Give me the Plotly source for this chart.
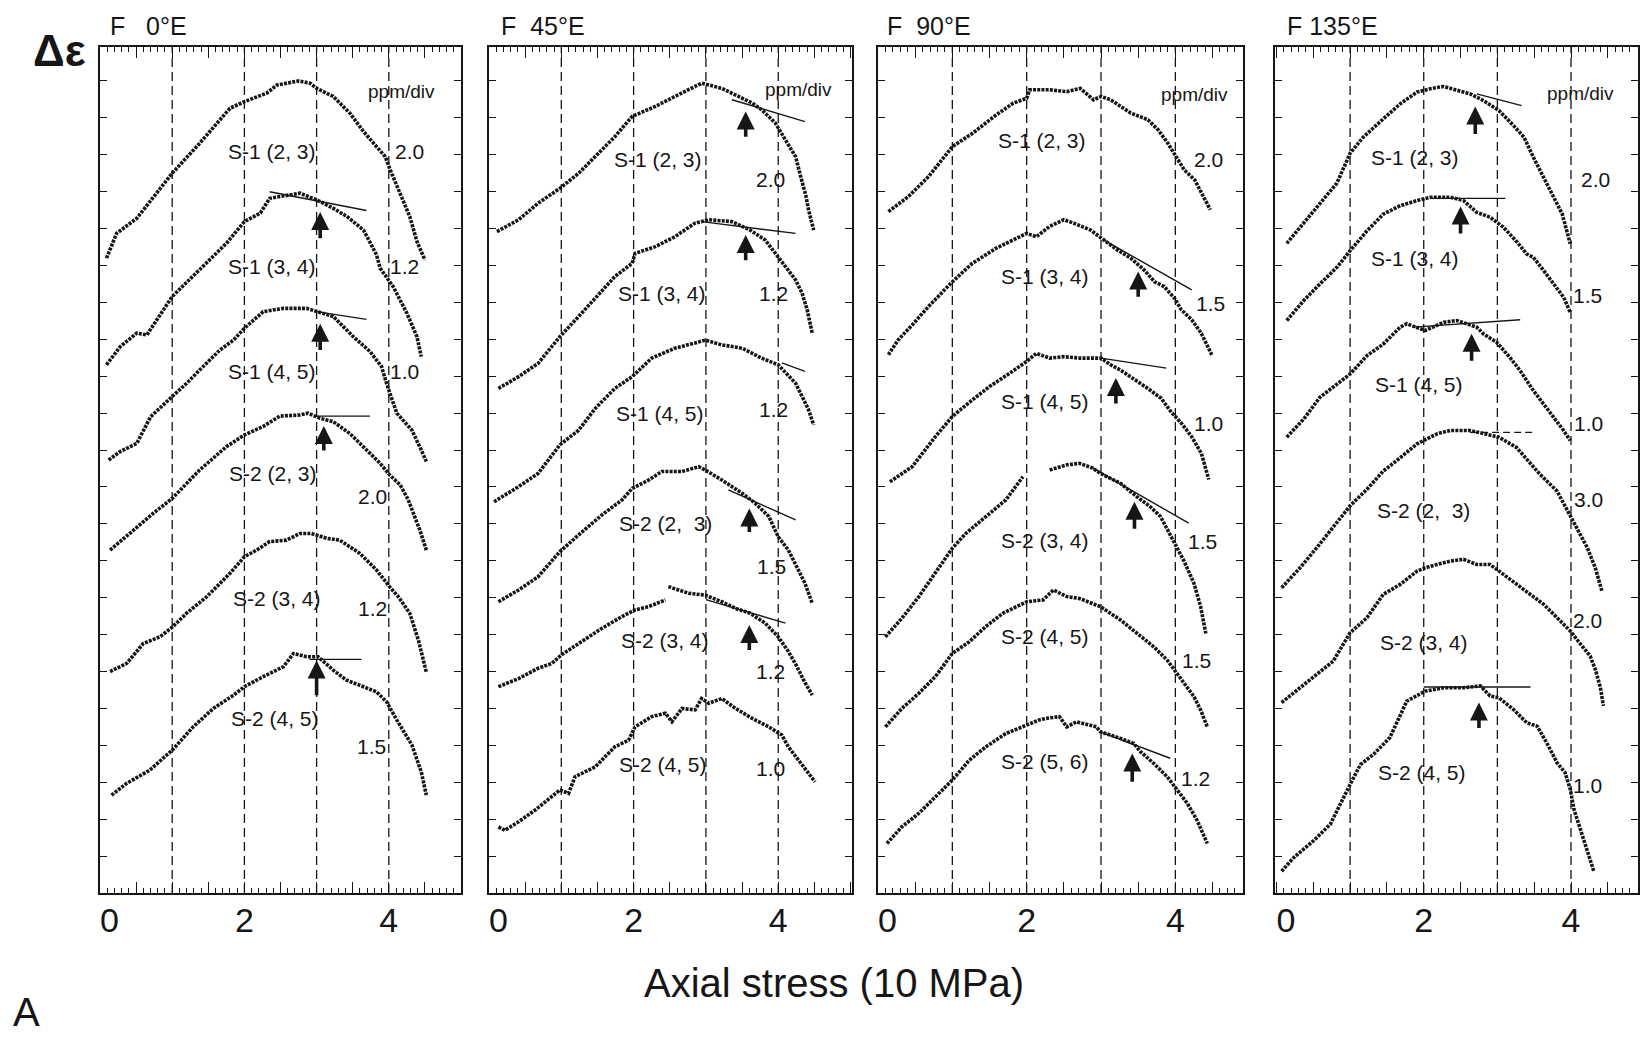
import plotly.graph_objects as go

INK = "#161616"
FONT = "Liberation Sans, Arial, Helvetica, sans-serif"

# ---------------- data ----------------
PANEL_TITLES = ["F\u00a0\u00a0\u00a00°E", "F\u00a0\u00a045°E", "F\u00a0\u00a090°E", "F\u00a0135°E"]
X_TICK_VALUES = [0, 2, 4]
X_TICK_LABELS = ["0", "2", "4"]
GRID_X = [1, 2, 3, 4]
UNIT_LABEL = "ppm/div"

# ---- Panel 1 : F 0°E ----
P1_NAMES = ["S-1 (2, 3)", "S-1 (3, 4)", "S-1 (4, 5)", "S-2 (2, 3)", "S-2 (3, 4)", "S-2 (4, 5)"]
P1_SCALES = ["2.0", "1.2", "1.0", "2.0", "1.2", "1.5"]
P1_S1_23_X = [0.09, 0.23, 0.51, 0.74, 1.0, 1.38, 1.80, 2.0, 2.31, 2.45, 2.75, 2.91, 3.0, 3.23, 3.46, 3.65, 3.88, 3.95, 4.02, 4.16, 4.29, 4.39, 4.5]
P1_S1_23_Y = [16.2, 16.87, 17.28, 17.87, 18.5, 19.31, 20.26, 20.44, 20.67, 20.89, 21.0, 20.94, 20.8, 20.58, 20.13, 19.63, 19.09, 18.95, 18.59, 17.96, 17.33, 16.65, 16.15]
P1_S1_34_X = [0.09, 0.28, 0.51, 0.65, 1.0, 1.38, 1.75, 2.0, 2.22, 2.35, 2.58, 2.77, 3.0, 3.23, 3.42, 3.65, 3.83, 3.88, 4.06, 4.25, 4.39, 4.45]
P1_S1_34_Y = [13.31, 13.8, 14.17, 14.12, 15.16, 15.88, 16.6, 17.19, 17.42, 17.82, 17.91, 17.96, 17.78, 17.55, 17.33, 16.96, 16.29, 15.93, 15.43, 14.71, 14.07, 13.53]
P1_S1_45_X = [0.12, 0.28, 0.51, 0.7, 1.0, 1.2, 1.38, 1.66, 1.85, 2.0, 2.26, 2.54, 2.86, 3.0, 3.23, 3.51, 3.74, 3.9, 3.97, 4.11, 4.32, 4.45, 4.52]
P1_S1_45_Y = [10.73, 10.96, 11.18, 11.9, 12.45, 12.81, 13.17, 13.71, 13.98, 14.3, 14.75, 14.84, 14.84, 14.75, 14.62, 14.07, 13.67, 13.26, 12.8, 12.0, 11.54, 11.0, 10.69]
P1_S2_23_X = [0.14, 0.46, 0.74, 1.0, 1.38, 1.75, 2.0, 2.26, 2.49, 2.77, 2.88, 3.05, 3.23, 3.46, 3.69, 3.88, 4.01, 4.16, 4.27, 4.36, 4.43, 4.52]
P1_S2_23_Y = [8.29, 8.83, 9.29, 9.69, 10.46, 11.09, 11.41, 11.64, 11.92, 11.95, 12.0, 11.86, 11.77, 11.45, 11.0, 10.64, 10.33, 10.05, 9.65, 9.2, 8.83, 8.29]
P1_S2_34_X = [0.14, 0.37, 0.6, 0.83, 1.0, 1.2, 1.48, 1.8, 2.0, 2.17, 2.35, 2.58, 2.77, 2.93, 3.14, 3.32, 3.6, 3.83, 4.01, 4.13, 4.29, 4.41, 4.52]
P1_S2_34_Y = [5.0, 5.22, 5.76, 5.94, 6.2, 6.58, 7.03, 7.66, 8.11, 8.29, 8.52, 8.56, 8.74, 8.74, 8.61, 8.56, 8.2, 7.75, 7.3, 7.03, 6.58, 5.85, 4.98]
P1_S2_45_X = [0.16, 0.37, 0.69, 1.0, 1.29, 1.57, 1.85, 2.0, 2.26, 2.54, 2.68, 2.86, 3.02, 3.23, 3.41, 3.6, 3.83, 3.97, 4.11, 4.32, 4.45, 4.52]
P1_S2_45_Y = [1.65, 1.97, 2.33, 2.87, 3.5, 4.0, 4.36, 4.59, 4.86, 5.13, 5.49, 5.4, 5.4, 5.04, 4.77, 4.63, 4.45, 4.18, 3.69, 3.01, 2.28, 1.65]
P1_TAN_X = [[2.35, 3.69], [3.0, 3.69], [3.0, 3.74], [2.9, 3.62]]
P1_TAN_Y = [[18.0, 17.49], [14.75, 14.54], [11.92, 11.92], [5.33, 5.33]]
P1_ARROW_X = [3.05, 3.05, 3.1, 3.0]
P1_ARROW_TAIL = [16.7, 13.67, 10.95, 4.32]
P1_ARROW_TIP = [17.45, 14.42, 11.65, 5.3]

# ---- Panel 2 : F 45°E ----
P2_NAMES = ["S-1 (2, 3)", "S-1 (3, 4)", "S-1 (4, 5)", "S-2 (2,\u00a0\u00a03)", "S-2 (3, 4)", "S-2 (4, 5)"]
P2_SCALES = ["2.0", "1.2", "1.2", "1.5", "1.2", "1.0"]
P2_S1_23_X = [0.11, 0.41, 0.68, 0.98, 1.24, 1.47, 1.74, 1.98, 2.3, 2.57, 2.85, 2.94, 3.22, 3.41, 3.64, 3.77, 3.96, 4.1, 4.24, 4.31, 4.38, 4.42, 4.49]
P2_S1_23_Y = [16.92, 17.24, 17.69, 18.09, 18.5, 18.95, 19.49, 20.04, 20.31, 20.58, 20.85, 20.94, 20.8, 20.62, 20.4, 20.22, 19.86, 19.4, 18.95, 18.41, 17.91, 17.5, 16.96]
P2_S1_34_X = [0.13, 0.41, 0.68, 0.98, 1.24, 1.61, 1.74, 1.98, 2.02, 2.3, 2.57, 2.85, 3.04, 3.36, 3.61, 3.82, 4.0, 4.1, 4.24, 4.33, 4.4, 4.47]
P2_S1_34_Y = [12.67, 12.99, 13.35, 14.07, 14.62, 15.43, 15.7, 16.06, 16.33, 16.51, 16.78, 17.15, 17.24, 17.19, 16.96, 16.69, 16.24, 15.97, 15.61, 15.25, 14.8, 14.17]
P2_S1_45_X = [0.07, 0.41, 0.68, 0.98, 1.24, 1.47, 1.74, 1.98, 2.25, 2.57, 2.85, 2.99, 3.22, 3.5, 3.77, 4.0, 4.24, 4.35, 4.42, 4.49]
P2_S1_45_Y = [9.6, 10.01, 10.37, 11.14, 11.54, 12.13, 12.67, 12.99, 13.49, 13.76, 13.9, 13.98, 13.85, 13.76, 13.49, 13.31, 12.81, 12.36, 12.09, 11.68]
P2_S2_23_X = [0.13, 0.41, 0.68, 0.98, 1.24, 1.56, 1.84, 1.98, 2.21, 2.39, 2.67, 2.9, 2.99, 3.22, 3.5, 3.68, 3.87, 4.0, 4.14, 4.28, 4.37, 4.47]
P2_S2_23_Y = [6.89, 7.21, 7.57, 8.25, 8.7, 9.24, 9.65, 9.96, 10.19, 10.42, 10.42, 10.55, 10.46, 10.19, 9.83, 9.56, 9.2, 8.65, 8.29, 7.75, 7.39, 6.85]
P2_S2_34_X = [0.13, 0.41, 0.68, 0.87, 1.0, 1.28, 1.56, 1.84, 2.02, 2.21, 2.44, None, 2.48, 2.76, 2.99, 3.22, 3.41, 3.61, 3.82, 4.0, 4.14, 4.26, 4.35, 4.47]
P2_S2_34_Y = [4.59, 4.81, 5.09, 5.22, 5.45, 5.81, 6.17, 6.49, 6.67, 6.76, 6.94, None, 7.3, 7.12, 7.07, 6.89, 6.71, 6.58, 6.31, 5.94, 5.54, 5.13, 4.77, 4.36]
P2_S2_45_X = [0.13, 0.22, 0.41, 0.64, 0.98, 1.1, 1.19, 1.47, 1.74, 1.93, 2.02, 2.25, 2.44, 2.53, 2.67, 2.85, 2.94, 3.04, 3.22, 3.41, 3.64, 3.87, 4.05, 4.14, 4.28, 4.51]
P2_S2_45_Y = [0.79, 0.7, 0.93, 1.25, 1.79, 1.7, 2.15, 2.42, 2.96, 3.14, 3.5, 3.78, 3.87, 3.64, 4.0, 3.96, 4.27, 4.14, 4.27, 4.0, 3.73, 3.5, 3.28, 2.96, 2.6, 2.01]
P2_TAN_X = [[3.36, 4.37], [2.94, 4.24], [4.05, 4.37], [3.31, 4.24], [3.0, 4.1]]
P2_TAN_Y = [[20.49, 19.9], [17.19, 16.87], [13.36, 13.13], [9.92, 9.11], [6.95, 6.31]]
P2_ARROW_X = [3.55, 3.55, 3.6, 3.6]
P2_ARROW_TAIL = [19.45, 16.1, 8.74, 5.54]
P2_ARROW_TIP = [20.17, 16.83, 9.42, 6.26]

# ---- Panel 3 : F 90°E ----
P3_NAMES = ["S-1 (2, 3)", "S-1 (3, 4)", "S-1 (4, 5)", "S-2 (3, 4)", "S-2 (4, 5)", "S-2 (5, 6)"]
P3_SCALES = ["2.0", "1.5", "1.0", "1.5", "1.5", "1.2"]
P3_S1_23_X = [0.14, 0.41, 0.68, 1.0, 1.27, 1.59, 1.82, 2.0, 2.04, 2.31, 2.54, 2.72, 2.9, 3.0, 3.13, 3.4, 3.63, 3.77, 3.9, 4.01, 4.12, 4.26, 4.35, 4.47]
P3_S1_23_Y = [17.46, 17.87, 18.41, 19.22, 19.58, 20.08, 20.4, 20.53, 20.76, 20.76, 20.71, 20.8, 20.49, 20.58, 20.49, 20.13, 19.95, 19.67, 19.31, 18.95, 18.59, 18.32, 17.96, 17.51]
P3_S1_34_X = [0.14, 0.27, 0.46, 0.68, 1.0, 1.27, 1.59, 1.86, 2.0, 2.13, 2.31, 2.5, 2.63, 2.86, 3.04, 3.22, 3.4, 3.58, 3.72, 3.85, 3.99, 4.08, 4.22, 4.35, 4.49]
P3_S1_34_Y = [13.58, 13.98, 14.39, 14.89, 15.56, 16.06, 16.47, 16.74, 16.87, 16.78, 17.06, 17.24, 17.15, 16.96, 16.69, 16.42, 16.2, 15.88, 15.56, 15.43, 15.11, 14.8, 14.53, 14.16, 13.58]
P3_S1_45_X = [0.16, 0.46, 0.77, 1.0, 1.27, 1.5, 1.77, 2.0, 2.13, 2.31, 2.5, 2.72, 3.0, 3.13, 3.26, 3.4, 3.63, 3.81, 3.94, 4.08, 4.22, 4.35, 4.45]
P3_S1_45_Y = [10.14, 10.55, 11.36, 11.91, 12.36, 12.72, 13.08, 13.4, 13.62, 13.49, 13.53, 13.49, 13.49, 13.31, 13.17, 12.99, 12.67, 12.4, 12.04, 11.73, 11.36, 10.91, 10.2]
P3_S2_34_X = [0.1, 0.32, 0.55, 0.77, 1.0, 1.18, 1.45, 1.72, 1.95, None, 2.31, 2.54, 2.71, 2.89, 2.99, 3.26, 3.48, 3.66, 3.8, 4.0, 4.11, 4.25, 4.34, 4.41]
P3_S2_34_Y = [5.94, 6.44, 7.03, 7.66, 8.34, 8.74, 9.2, 9.65, 10.28, None, 10.46, 10.6, 10.64, 10.51, 10.37, 10.1, 9.74, 9.47, 9.2, 8.47, 8.02, 7.39, 6.76, 6.03]
P3_S2_45_X = [0.1, 0.32, 0.55, 0.77, 1.0, 1.23, 1.45, 1.68, 2.0, 2.22, 2.36, 2.54, 2.71, 2.99, 3.26, 3.48, 3.71, 3.89, 4.0, 4.11, 4.25, 4.34, 4.43]
P3_S2_45_Y = [3.5, 4.0, 4.41, 4.86, 5.49, 5.81, 6.22, 6.58, 6.89, 6.94, 7.21, 7.03, 6.98, 6.76, 6.4, 6.03, 5.67, 5.31, 5.0, 4.68, 4.32, 3.96, 3.5]
P3_S2_56_X = [0.12, 0.32, 0.55, 0.77, 1.0, 1.23, 1.45, 1.72, 2.0, 2.17, 2.26, 2.44, 2.54, 2.67, 2.94, 2.99, 3.26, 3.44, 3.53, 3.71, 3.89, 4.02, 4.16, 4.29, 4.43]
P3_S2_56_Y = [0.34, 0.79, 1.16, 1.61, 2.06, 2.6, 2.96, 3.32, 3.55, 3.69, 3.73, 3.78, 3.5, 3.64, 3.5, 3.37, 3.19, 3.05, 2.83, 2.51, 2.15, 1.79, 1.43, 0.98, 0.34]
P3_TAN_X = [[3.04, 4.22], [3.0, 3.88], [2.89, 4.18], [2.98, 3.93]]
P3_TAN_Y = [[16.69, 15.34], [13.49, 13.22], [10.51, 9.02], [3.37, 2.65]]
P3_ARROW_X = [3.5, 3.2, 3.45, 3.42]
P3_ARROW_TAIL = [15.11, 12.22, 8.83, 1.97]
P3_ARROW_TIP = [15.84, 12.95, 9.6, 2.78]

# ---- Panel 4 : F 135°E ----
P4_NAMES = ["S-1 (2, 3)", "S-1 (3, 4)", "S-1 (4, 5)", "S-2 (2,\u00a0\u00a03)", "S-2 (3, 4)", "S-2 (4, 5)"]
P4_SCALES = ["2.0", "1.5", "1.0", "3.0", "2.0", "1.0"]
P4_S1_23_X = [0.14, 0.37, 0.59, 0.82, 1.0, 1.18, 1.45, 1.68, 1.91, 2.09, 2.27, 2.45, 2.63, 2.81, 3.02, 3.22, 3.36, 3.49, 3.63, 3.76, 3.88, 3.99]
P4_S1_23_Y = [16.6, 17.15, 17.69, 18.23, 19.04, 19.48, 19.97, 20.38, 20.7, 20.79, 20.85, 20.74, 20.65, 20.47, 20.2, 19.79, 19.48, 18.93, 18.39, 17.85, 17.4, 16.59]
P4_S1_34_X = [0.14, 0.37, 0.59, 0.82, 1.0, 1.23, 1.45, 1.68, 1.91, 2.09, 2.36, 2.54, 2.72, 2.9, 3.08, 3.27, 3.4, 3.49, 3.63, 3.76, 3.9, 3.99]
P4_S1_34_Y = [14.51, 15.05, 15.5, 15.95, 16.4, 16.94, 17.39, 17.62, 17.76, 17.85, 17.85, 17.76, 17.44, 17.31, 17.04, 16.63, 16.31, 16.22, 15.86, 15.5, 15.14, 14.73]
P4_S1_45_X = [0.14, 0.37, 0.59, 0.82, 1.0, 1.23, 1.45, 1.68, 1.77, 2.02, 2.27, 2.45, 2.72, 2.81, 2.99, 3.17, 3.31, 3.49, 3.63, 3.76, 3.9, 3.99]
P4_S1_45_Y = [11.35, 11.84, 12.43, 12.79, 13.06, 13.56, 13.87, 14.33, 14.42, 14.24, 14.46, 14.51, 14.33, 14.15, 13.92, 13.51, 13.15, 12.61, 12.25, 11.89, 11.53, 11.26]
P4_S2_23_X = [0.07, 0.32, 0.55, 0.77, 1.0, 1.23, 1.45, 1.63, 1.91, 2.18, 2.36, 2.63, 2.81, 3.02, 3.26, 3.42, 3.58, 3.81, 3.99, 4.13, 4.22, 4.33, 4.42]
P4_S2_23_Y = [7.27, 7.81, 8.36, 8.9, 9.49, 9.94, 10.43, 10.71, 11.17, 11.44, 11.53, 11.53, 11.44, 11.35, 11.07, 10.72, 10.34, 9.89, 9.21, 8.72, 8.36, 7.81, 7.18]
P4_S2_34_X = [0.07, 0.32, 0.55, 0.77, 1.0, 1.23, 1.45, 1.68, 1.91, 2.02, 2.18, 2.36, 2.54, 2.72, 2.9, 3.02, 3.22, 3.45, 3.63, 3.81, 3.99, 4.13, 4.26, 4.33, 4.4, 4.44]
P4_S2_34_Y = [4.16, 4.56, 4.92, 5.28, 6.05, 6.46, 7.09, 7.36, 7.72, 7.81, 7.9, 7.99, 8.04, 7.9, 7.9, 7.72, 7.45, 7.09, 6.82, 6.46, 6.1, 5.74, 5.42, 5.06, 4.56, 4.07]
P4_S2_45_X = [0.07, 0.23, 0.5, 0.73, 1.0, 1.14, 1.32, 1.54, 1.77, 1.91, 2.02, 2.27, 2.54, 2.77, 2.9, 3.02, 3.22, 3.4, 3.54, 3.67, 3.81, 3.92, 3.99, 4.04, 4.13, 4.22, 4.31]
P4_S2_45_Y = [-0.41, -0.05, 0.41, 0.86, 1.94, 2.48, 2.76, 3.21, 4.2, 4.34, 4.47, 4.56, 4.56, 4.61, 4.34, 4.29, 3.97, 3.61, 3.52, 3.07, 2.53, 2.26, 1.81, 1.27, 0.72, 0.18, -0.41]
P4_TAN_X = [[2.72, 3.33], [2.09, 3.11], [1.86, 3.31], [2.63, 3.49], [2.0, 3.45]]
P4_TAN_Y = [[20.65, 20.33], [17.82, 17.82], [14.33, 14.53], [11.48, 11.48], [4.58, 4.58]]
P4_TAN_DASHED = [False, False, False, True, False]
P4_ARROW_X = [2.7, 2.5, 2.65, 2.75]
P4_ARROW_TAIL = [19.52, 16.83, 13.38, 3.43]
P4_ARROW_TIP = [20.31, 17.6, 14.15, 4.16]

# ---------------- layout helpers (positions / styles) ----------------
W, H = 1651, 1037
FRAME_TOP, FRAME_BOTTOM = 47, 893
Y_RANGE = [-1, 21.92]
PANEL_PX = [(100, 461), (489, 852), (878, 1243), (1275, 1638)]
PANEL_XRANGE = [[0, 5.0], [0, 5.02], [0, 4.91], [-0.02, 4.91]]

P1_NAME_POS = [(2.38, 19.09), (2.38, 15.97), (2.38, 13.13), (2.4, 10.37), (2.45, 6.98), (2.42, 3.73)]
P1_SCALE_POS = [(4.29, 19.09), (4.22, 15.97), (4.22, 13.13), (3.78, 9.74), (3.78, 6.71), (3.76, 2.96)]
P2_NAME_POS = [(2.34, 18.86), (2.39, 15.25), (2.37, 12.0), (2.44, 9.02), (2.44, 5.85), (2.41, 2.47)]
P2_SCALE_POS = [(3.89, 18.32), (3.94, 15.25), (3.94, 12.09), (3.91, 7.84), (3.89, 5.0), (3.89, 2.38)]
P3_NAME_POS = [(2.2, 19.4), (2.25, 15.7), (2.25, 12.31), (2.24, 8.56), (2.24, 5.94), (2.24, 2.56)]
P3_SCALE_POS = [(4.44, 18.86), (4.47, 14.98), (4.44, 11.73), (4.36, 8.52), (4.29, 5.31), (4.27, 2.1)]
P4_NAME_POS = [(1.88, 18.93), (1.88, 16.18), (1.93, 12.79), (2.0, 9.35), (2.0, 5.78), (1.98, 2.26)]
P4_SCALE_POS = [(4.33, 18.34), (4.22, 15.18), (4.24, 11.71), (4.24, 9.67), (4.22, 6.37), (4.22, 1.9)]
UNIT_POS = [(4.18, 20.71), (4.28, 20.76), (4.26, 20.62), (4.13, 20.65)]
TITLE_PX = [108, 499, 885, 1285]

panels = [
    dict(curves=[(P1_S1_23_X, P1_S1_23_Y), (P1_S1_34_X, P1_S1_34_Y), (P1_S1_45_X, P1_S1_45_Y),
                 (P1_S2_23_X, P1_S2_23_Y), (P1_S2_34_X, P1_S2_34_Y), (P1_S2_45_X, P1_S2_45_Y)],
         names=P1_NAMES, scales=P1_SCALES, name_pos=P1_NAME_POS, scale_pos=P1_SCALE_POS,
         tan_x=P1_TAN_X, tan_y=P1_TAN_Y, tan_dash=[False] * 4,
         arr_x=P1_ARROW_X, arr_tail=P1_ARROW_TAIL, arr_tip=P1_ARROW_TIP),
    dict(curves=[(P2_S1_23_X, P2_S1_23_Y), (P2_S1_34_X, P2_S1_34_Y), (P2_S1_45_X, P2_S1_45_Y),
                 (P2_S2_23_X, P2_S2_23_Y), (P2_S2_34_X, P2_S2_34_Y), (P2_S2_45_X, P2_S2_45_Y)],
         names=P2_NAMES, scales=P2_SCALES, name_pos=P2_NAME_POS, scale_pos=P2_SCALE_POS,
         tan_x=P2_TAN_X, tan_y=P2_TAN_Y, tan_dash=[False] * 5,
         arr_x=P2_ARROW_X, arr_tail=P2_ARROW_TAIL, arr_tip=P2_ARROW_TIP),
    dict(curves=[(P3_S1_23_X, P3_S1_23_Y), (P3_S1_34_X, P3_S1_34_Y), (P3_S1_45_X, P3_S1_45_Y),
                 (P3_S2_34_X, P3_S2_34_Y), (P3_S2_45_X, P3_S2_45_Y), (P3_S2_56_X, P3_S2_56_Y)],
         names=P3_NAMES, scales=P3_SCALES, name_pos=P3_NAME_POS, scale_pos=P3_SCALE_POS,
         tan_x=P3_TAN_X, tan_y=P3_TAN_Y, tan_dash=[False] * 4,
         arr_x=P3_ARROW_X, arr_tail=P3_ARROW_TAIL, arr_tip=P3_ARROW_TIP),
    dict(curves=[(P4_S1_23_X, P4_S1_23_Y), (P4_S1_34_X, P4_S1_34_Y), (P4_S1_45_X, P4_S1_45_Y),
                 (P4_S2_23_X, P4_S2_23_Y), (P4_S2_34_X, P4_S2_34_Y), (P4_S2_45_X, P4_S2_45_Y)],
         names=P4_NAMES, scales=P4_SCALES, name_pos=P4_NAME_POS, scale_pos=P4_SCALE_POS,
         tan_x=P4_TAN_X, tan_y=P4_TAN_Y, tan_dash=P4_TAN_DASHED,
         arr_x=P4_ARROW_X, arr_tail=P4_ARROW_TAIL, arr_tip=P4_ARROW_TIP),
]

# major tick every 0.5, labels only at the labelled values
MAJOR_X = [i * 0.5 for i in range(11)]
label_map = dict(zip(X_TICK_VALUES, X_TICK_LABELS))
MAJOR_TEXT = [("\u00a0\u00a0" + label_map[v] if v == 0 else label_map[v]) if v in label_map else "" for v in MAJOR_X]

fig = go.Figure()
annotations = []
shapes = []
layout_axes = {}
ydom = [1 - FRAME_BOTTOM / H, 1 - FRAME_TOP / H]

for i, p in enumerate(panels):
    n = "" if i == 0 else str(i + 1)
    xa, ya = "x" + n, "y" + n
    for X, Y in p["curves"]:
        fig.add_trace(go.Scatter(x=X, y=Y, xaxis=xa, yaxis=ya, mode="lines",
                                 line=dict(color=INK, width=3.6, dash="3px,1.2px"),
                                 connectgaps=False, hoverinfo="skip", showlegend=False))
    for tx, ty, dsh in zip(p["tan_x"], p["tan_y"], p["tan_dash"]):
        fig.add_trace(go.Scatter(x=tx, y=ty, xaxis=xa, yaxis=ya, mode="lines",
                                 line=dict(color=INK, width=1.4, dash="7px,4px" if dsh else "solid"),
                                 hoverinfo="skip", showlegend=False))
    for gx in GRID_X:
        shapes.append(dict(type="line", xref=xa, yref=ya + " domain", x0=gx, x1=gx, y0=0, y1=1,
                           line=dict(color=INK, width=1.3, dash="9px,5px"), layer="below"))
    for txt, (px, py) in zip(p["names"], p["name_pos"]):
        annotations.append(dict(x=px, y=py, xref=xa, yref=ya, text=txt, showarrow=False,
                                xanchor="center", yanchor="middle",
                                font=dict(family=FONT, size=21, color=INK)))
    for txt, (px, py) in zip(p["scales"], p["scale_pos"]):
        annotations.append(dict(x=px, y=py, xref=xa, yref=ya, text=txt, showarrow=False,
                                xanchor="center", yanchor="middle",
                                font=dict(family=FONT, size=21, color=INK)))
    ux, uy = UNIT_POS[i]
    annotations.append(dict(x=ux, y=uy, xref=xa, yref=ya, text=UNIT_LABEL, showarrow=False,
                            xanchor="center", yanchor="middle",
                            font=dict(family=FONT, size=19, color=INK)))
    for ax_, tl, tp in zip(p["arr_x"], p["arr_tail"], p["arr_tip"]):
        annotations.append(dict(x=ax_, y=tp, ax=ax_, ay=tl, xref=xa, yref=ya, axref=xa, ayref=ya,
                                text="", showarrow=True, arrowhead=2, arrowsize=1.0,
                                arrowwidth=3.6, arrowcolor=INK, standoff=0))
    annotations.append(dict(x=TITLE_PX[i] / W, y=1 - 26 / H, xref="paper", yref="paper",
                            xanchor="left", yanchor="middle", text=PANEL_TITLES[i], showarrow=False,
                            font=dict(family=FONT, size=25, color=INK)))
    x0px, x1px = PANEL_PX[i]
    layout_axes["xaxis" + n] = dict(
        domain=[x0px / W, x1px / W], range=PANEL_XRANGE[i], anchor=ya, automargin=False,
        showgrid=False, zeroline=False, showline=True, linecolor=INK, linewidth=2,
        mirror="allticks", tickmode="array", tickvals=MAJOR_X, ticktext=MAJOR_TEXT,
        ticks="inside", ticklen=11, tickwidth=1.3, tickcolor=INK,
        minor=dict(tickmode="linear", tick0=0, dtick=0.1, ticks="inside", ticklen=5,
                   tickwidth=1, tickcolor=INK, showgrid=False),
        tickfont=dict(family=FONT, size=34, color=INK), ticklabelstandoff=-4,
    )
    layout_axes["yaxis" + n] = dict(
        domain=ydom, range=Y_RANGE, anchor=xa, automargin=False, showgrid=False, zeroline=False,
        showline=True, linecolor=INK, linewidth=2, mirror="allticks",
        tickmode="linear", tick0=0, dtick=1, ticks="inside", ticklen=7, tickwidth=1.3,
        tickcolor=INK, showticklabels=False,
    )

annotations.append(dict(x=60 / W, y=1 - 50 / H, xref="paper", yref="paper", text="<b>Δε</b>",
                        xanchor="center", yanchor="middle",
                        showarrow=False, font=dict(family=FONT, size=44, color=INK)))
annotations.append(dict(x=834 / W, y=1 - 983 / H, xref="paper", yref="paper",
                        xanchor="center", yanchor="middle",
                        text="Axial stress (10 MPa)", showarrow=False,
                        font=dict(family=FONT, size=40, color=INK)))
annotations.append(dict(x=26 / W, y=1 - 1012 / H, xref="paper", yref="paper", text="A",
                        xanchor="center", yanchor="middle",
                        showarrow=False, font=dict(family=FONT, size=40, color=INK)))

fig.update_layout(width=W, height=H, margin=dict(l=0, r=0, t=0, b=0, autoexpand=False),
                  paper_bgcolor="white", plot_bgcolor="white",
                  annotations=annotations, shapes=shapes, showlegend=False, **layout_axes)

fig.write_html("out.html", config={"displayModeBar": False},
               post_script="document.body.style.margin='0px';")
